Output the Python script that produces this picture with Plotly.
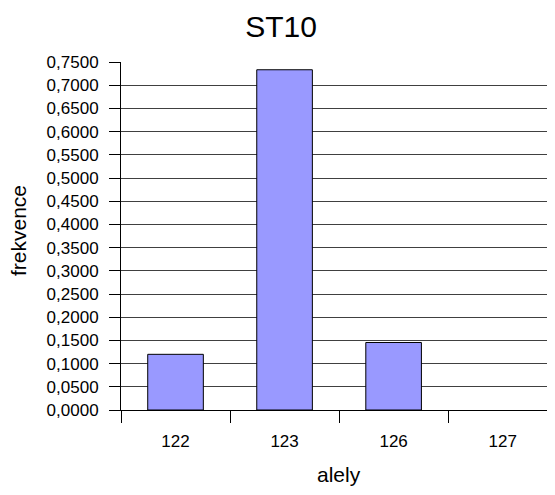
import plotly.graph_objects as go

categories = ["122", "123", "126", "127"]
values = [0.12, 0.7333, 0.1455, 0.0]
title_text = "ST10"
x_label = "alely"
y_label = "frekvence"

OFF = 8  # default body margin of the page
W, H = 555 - OFF, 495 - OFF
L, R, T, B = 121 - OFF, 0, 62 - OFF, 85
PW, PH = W - L - R, H - T - B

def px_x(px):
    return (px - OFF - L) / PW

def px_y(py):
    return (H - B - (py - OFF)) / PH

fig = go.Figure()
fig.add_trace(go.Bar(
    x=categories, y=values,
    marker=dict(color="#9999FF",
                line=dict(color="#000000", width=[1 if v > 0 else 0 for v in values])),
    width=0.51,
))

fig.update_layout(
    width=W, height=H,
    margin=dict(l=L, r=R, t=T, b=B, autoexpand=False),
    plot_bgcolor="white", paper_bgcolor="white",
    font=dict(family="Liberation Sans, Arial, sans-serif", color="black", size=17),
    separators=", ",
    showlegend=False,
    title=dict(text=title_text, font=dict(size=30), x=(281 - OFF) / W, xref="container",
               xanchor="center", y=1 - (26 - OFF) / H, yref="container", yanchor="middle"),
    annotations=[
        dict(text=y_label, x=px_x(18), y=px_y(231), xref="paper", yref="paper",
             showarrow=False, textangle=-90, font=dict(size=21),
             xanchor="center", yanchor="middle"),
        dict(text=x_label, x=px_x(339), y=px_y(475), xref="paper", yref="paper",
             showarrow=False, font=dict(size=21),
             xanchor="center", yanchor="middle"),
    ],
)
fig.update_xaxes(
    type="category", range=[-0.5, 3.48], automargin=False,
    showline=True, linecolor="black", linewidth=1,
    ticks="outside", tickson="boundaries", ticklen=12, tickcolor="black", tickwidth=1,
    showgrid=False, ticklabelstandoff=16,
)
fig.update_yaxes(
    range=[0, 0.75], dtick=0.05, tick0=0, tickformat=".4f", automargin=False,
    showline=True, linecolor="black", linewidth=1,
    ticks="outside", ticklen=11, tickcolor="black", tickwidth=1,
    showgrid=True, gridcolor="#404040", gridwidth=1,
    zeroline=False, ticklabelstandoff=7,
)

fig.write_html("out.html")
